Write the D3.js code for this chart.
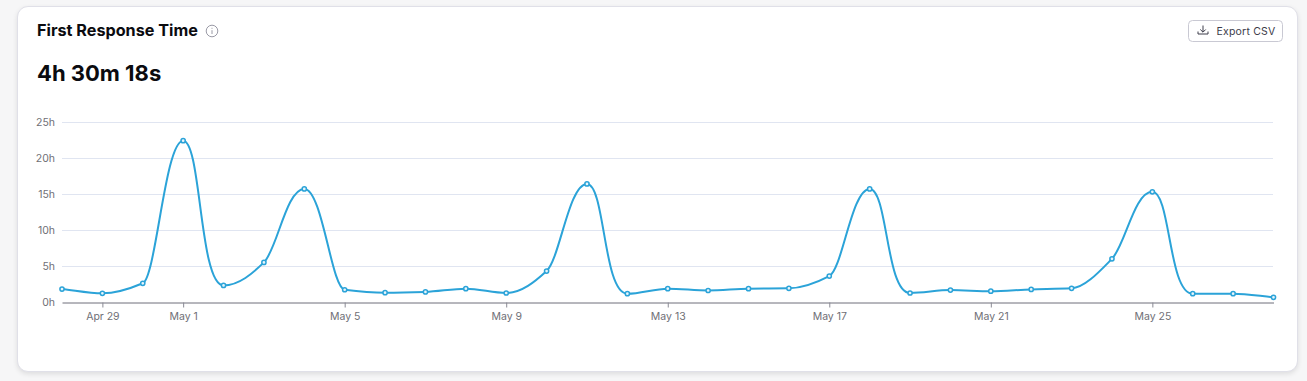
<!DOCTYPE html>
<html>
<head>
<meta charset="utf-8">
<script src="https://cdn.jsdelivr.net/npm/d3@7"></script>
<style>
  html, body { margin: 0; padding: 0; background: #f6f6f7; width: 1307px; height: 381px; overflow: hidden; }
  #card {
    position: absolute; left: 17px; top: 6px; width: 1279px; height: 364px;
    background: #fff; border: 1px solid #e0e0e8; border-radius: 11px;
    box-shadow: 0 2px 5px rgba(0, 0, 0, .1);
  }
  #chart { position: absolute; left: 0; top: 0; }
  text { font-family: Inter, "Noto Sans", sans-serif; }
</style>
</head>
<body>
<div id="card"></div>
<div id="chart"></div>
<script>
const dates = [
  "2023-04-28", "2023-04-29", "2023-04-30", "2023-05-01", "2023-05-02", "2023-05-03", "2023-05-04", "2023-05-05",
  "2023-05-06", "2023-05-07", "2023-05-08", "2023-05-09", "2023-05-10", "2023-05-11", "2023-05-12", "2023-05-13",
  "2023-05-14", "2023-05-15", "2023-05-16", "2023-05-17", "2023-05-18", "2023-05-19", "2023-05-20", "2023-05-21",
  "2023-05-22", "2023-05-23", "2023-05-24", "2023-05-25", "2023-05-26", "2023-05-27", "2023-05-28"
];
const hours = [
  1.8, 1.2, 2.6, 22.4, 2.3, 5.5, 15.7, 1.7,
  1.3, 1.4, 1.85, 1.25, 4.3, 16.4, 1.15, 1.85,
  1.6, 1.85, 1.9, 3.6, 15.7, 1.25, 1.65, 1.5,
  1.75, 1.9, 6.0, 15.3, 1.15, 1.15, 0.65
];
const y_ticks = [0, 5, 10, 15, 20, 25];
const x_ticks = ["2023-04-29", "2023-05-01", "2023-05-05", "2023-05-09", "2023-05-13", "2023-05-17", "2023-05-21", "2023-05-25"];

const dim = { width: 1307, height: 381, ml: 62, mr: 34, mt: 122, mb: 79 };
dim.inner_width = dim.width - dim.ml - dim.mr;
dim.inner_height = dim.height - dim.mt - dim.mb;

const parse = d3.utcParse("%Y-%m-%d");
const data = dates.map((d, i) => ({ date: parse(d), value: hours[i] }));

// monotone tangents as in d3.curveMonotoneX, handle length follows the chord so steep peaks get boxier
function curveChordMonotone(context) {
  const pts = [];
  return {
    areaStart() {},
    areaEnd() {},
    lineStart() { pts.length = 0; },
    point(x, y) { pts.push([+x, +y]); },
    lineEnd() {
      const n = pts.length;
      const s = d3.range(n - 1).map(i => (pts[i + 1][1] - pts[i][1]) / (pts[i + 1][0] - pts[i][0]));
      const t = pts.map((p, i) => {
        if (i === 0) return s[0];
        if (i === n - 1) return s[n - 2];
        if (s[i - 1] * s[i] <= 0) return 0;
        return 0.85 * Math.sign(s[i]) * 2 * Math.min(Math.abs(s[i - 1]), Math.abs(s[i]), 0.25 * Math.abs(s[i - 1] + s[i]));
      });
      // y grows downward on screen: valleys get the longest handle, points on a slope the shortest
      const cap = i => {
        if (t[i] !== 0) return 0.33;
        return i > 0 && s[i - 1] > 0 ? 0.6 : 0.45;
      };
      context.moveTo(pts[0][0], pts[0][1]);
      for (let i = 0; i < n - 1; i++) {
        const dx = pts[i + 1][0] - pts[i][0],
          chord = Math.hypot(dx, pts[i + 1][1] - pts[i][1]),
          h0 = Math.min(dx * cap(i), chord / 3 / Math.hypot(1, t[i])),
          h1 = Math.min(dx * cap(i + 1), chord / 3 / Math.hypot(1, t[i + 1]));
        context.bezierCurveTo(
          pts[i][0] + h0, pts[i][1] + h0 * t[i],
          pts[i + 1][0] - h1, pts[i + 1][1] - h1 * t[i + 1],
          pts[i + 1][0], pts[i + 1][1]
        );
      }
    }
  };
}

const svg = d3.select("#chart").append("svg").attr("width", dim.width).attr("height", dim.height);

// header
svg.append("text").attr("x", 37).attr("y", 36).attr("font-size", 16.2).attr("font-weight", 700)
  .attr("fill", "#0b0b0f").text("First Response Time");

const info = svg.append("g").attr("transform", "translate(212,31)").attr("fill", "none").attr("stroke", "#9a9aa6");
info.append("circle").attr("r", 5.8).attr("stroke-width", 1);
info.append("line").attr("x1", 0).attr("x2", 0).attr("y1", -0.8).attr("y2", 3).attr("stroke-width", 1);
info.append("line").attr("x1", 0).attr("x2", 0).attr("y1", -3.2).attr("y2", -2.2).attr("stroke-width", 1);

svg.append("text").attr("x", 37).attr("y", 81).attr("font-size", 22).attr("font-weight", 700)
  .attr("fill", "#0b0b0f").text("4h 30m 18s");

// export button
const btn = svg.append("g").attr("transform", "translate(1188.5,20.5)");
btn.append("rect").attr("width", 94).attr("height", 21).attr("rx", 4)
  .attr("fill", "#fff").attr("stroke", "#c9c9d3");
btn.append("path").attr("d", "M9.5 11 v2.5 h10 v-2.5 M14.5 5 v6.5 M11.8 9 l2.7 2.7 l2.7 -2.7")
  .attr("fill", "none").attr("stroke", "#3c3c4a").attr("stroke-width", 1);
btn.append("text").attr("x", 28).attr("y", 14).attr("font-size", 10.5).attr("fill", "#3c3c4a")
  .attr("letter-spacing", 0.2).text("Export CSV");

const main_g = svg.append("g").attr("transform", "translate(" + dim.ml + "," + dim.mt + ")");

const d3x = d3.scaleUtc().domain(d3.extent(data, d => d.date)).range([0, dim.inner_width + 0.5]);
const d3y = d3.scaleLinear().domain([0, 25]).range([dim.inner_height, 0]);

// grid
main_g.append("g").selectAll("line").data(y_ticks.filter(d => d > 0)).enter().append("line")
  .attr("x1", 0).attr("x2", dim.inner_width).attr("y1", d => d3y(d) + 0.5).attr("y2", d => d3y(d) + 0.5)
  .attr("stroke", "#e0e5f1");

const y_axis = main_g.append("g")
  .call(d3.axisLeft(d3y).tickValues(y_ticks).tickSize(0).tickPadding(7).tickFormat(d => d + "h"));
y_axis.select(".domain").remove();
y_axis.selectAll("text").attr("font-size", 10.5).attr("fill", "#6f6f76").attr("font-family", "Inter");

const x_axis = main_g.append("g").attr("transform", "translate(0," + (dim.inner_height + 0.5) + ")")
  .call(d3.axisBottom(d3x).tickValues(x_ticks.map(parse)).tickSizeInner(5).tickSizeOuter(0).tickPadding(5)
    .tickFormat(d3.utcFormat("%b %-d")));
x_axis.select(".domain").attr("stroke", "#6f6f7a");
x_axis.selectAll("line").attr("stroke", "#8a8a94");
x_axis.selectAll("text").attr("font-size", 10.5).attr("fill", "#6f6f76").attr("font-family", "Inter");

const line = d3.line().x(d => d3x(d.date)).y(d => d3y(d.value)).curve(curveChordMonotone);

main_g.append("path").datum(data).attr("d", line)
  .attr("fill", "none").attr("stroke", "#2ba3d8").attr("stroke-width", 2);

main_g.append("g").selectAll("circle").data(data).enter().append("circle")
  .attr("cx", d => d3x(d.date)).attr("cy", d => d3y(d.value)).attr("r", 2.1)
  .attr("fill", "#e8f5fb").attr("stroke", "#2ba3d8").attr("stroke-width", 1.5);
</script>
</body>
</html>
